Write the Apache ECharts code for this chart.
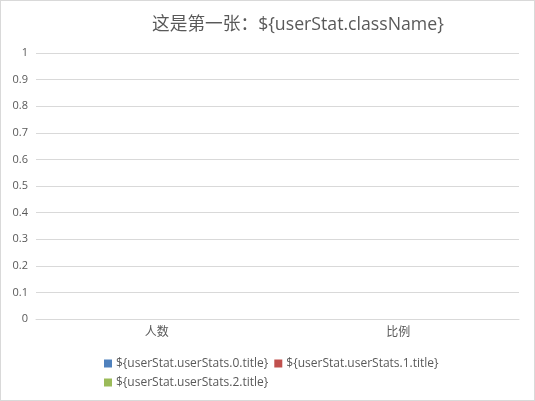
<!DOCTYPE html>
<html>
<head>
<meta charset="utf-8">
<script src="https://cdn.jsdelivr.net/npm/echarts@6/dist/echarts.min.js"></script>
<style>
html,body{margin:0;padding:0;background:#fff;}
#c{width:535px;height:401px;box-sizing:border-box;border:1px solid #d9d9d9;}
</style>
</head>
<body>
<div id="c"></div>
<script>
const titleText = '这是第一张：${userStat.className}';
const categories = ['人数', '比例'];
const seriesNames = ['${userStat.userStats.0.title}', '${userStat.userStats.1.title}', '${userStat.userStats.2.title}'];
const series0 = [0, 0];
const series1 = [0, 0];
const series2 = [0, 0];
const colors = ['#4F81BD', '#C0504D', '#9BBB59'];

const font = '"Open Sans", "Noto Sans CJK SC", sans-serif';
const chart = echarts.init(document.getElementById('c'));
chart.setOption({
  animation: false,
  color: colors,
  textStyle: { fontFamily: font },
  title: {
    text: titleText,
    left: 146,
    top: 10,
    textStyle: { fontSize: 17.7, fontWeight: 'normal', color: '#595959', fontFamily: font }
  },
  legend: {
    left: 98,
    top: 351,
    width: 350,
    itemWidth: 8,
    itemHeight: 8,
    itemGap: 6,
    icon: 'rect',
    textStyle: { fontSize: 12, color: '#595959', fontFamily: font, padding: [0, 0, 0, -1], lineHeight: 13 },
    data: seriesNames
  },
  grid: { left: 35, right: 15, top: 52, bottom: 81, containLabel: false },
  xAxis: {
    type: 'category',
    data: categories,
    axisLine: { show: true, lineStyle: { color: '#d9d9d9' } },
    axisTick: { show: false },
    axisLabel: { color: '#595959', fontSize: 12, margin: 8, fontFamily: font }
  },
  yAxis: {
    type: 'value',
    min: 0, max: 1, interval: 0.1,
    axisLine: { show: false },
    axisTick: { show: false },
    axisLabel: { color: '#595959', fontSize: 11, margin: 8, fontFamily: font },
    splitLine: { lineStyle: { color: '#d9d9d9' } }
  },
  series: [
    { name: seriesNames[0], type: 'bar', data: series0 },
    { name: seriesNames[1], type: 'bar', data: series1 },
    { name: seriesNames[2], type: 'bar', data: series2 }
  ]
});
</script>
</body>
</html>
